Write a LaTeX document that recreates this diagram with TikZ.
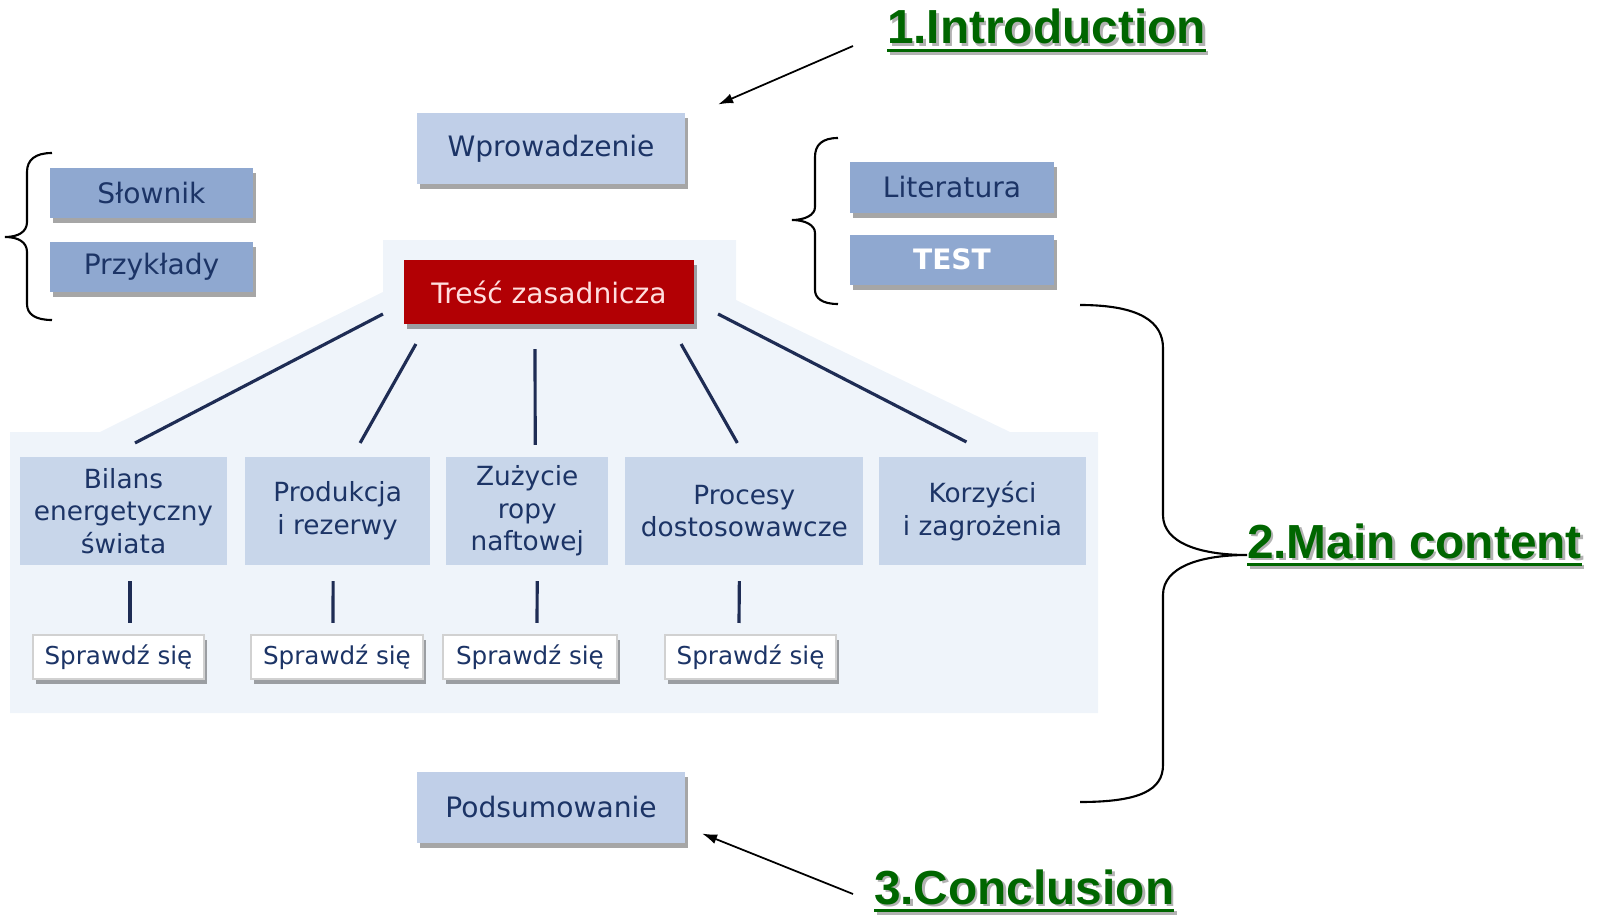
\documentclass[tikz,border=0pt]{standalone}
\usepackage{fontspec}
\setmainfont{DejaVu Sans}
\newfontfamily\headfont{Liberation Sans}
\usepackage{tikz}
\usetikzlibrary{positioning}
\usetikzlibrary{calc}
\usetikzlibrary{shadows}
\usetikzlibrary{arrows.meta}
\definecolor{navy}{RGB}{28,52,102}
\definecolor{linknavy}{RGB}{30,44,84}
\definecolor{sideblue}{RGB}{143,168,208}
\definecolor{paleblue}{RGB}{192,207,232}
\definecolor{topicblue}{RGB}{200,214,234}
\definecolor{panelblue}{RGB}{239,244,250}
\definecolor{darkred}{RGB}{178,0,4}
\definecolor{pinktext}{RGB}{255,222,222}
\definecolor{headgreen}{RGB}{0,102,0}
\newcommand{\headline}[1]{%
  \setbox0\hbox{\headfont\bfseries #1}%
  \rlap{\hspace{0.025cm}\raisebox{-0.025cm}[0pt][0pt]{\textcolor{black!30}{\headfont\bfseries\rlap{\raisebox{-0.08cm}{\rule{\wd0}{0.035cm}}}#1}}}%
  \textcolor{headgreen}{\headfont\bfseries\rlap{\raisebox{-0.08cm}{\rule{\wd0}{0.035cm}}}#1}}

\begin{document}
\begin{tikzpicture}[x=0.01cm, y=-0.01cm, every node/.style={outer sep=0pt},
  boxshadow/.style={drop shadow={shadow xshift=0.03cm, shadow yshift=-0.05cm, fill=black, opacity=0.35}},
  sidebox/.style={minimum width=2.03cm, minimum height=0.5cm, inner sep=0pt, fill=sideblue, text=navy, font=\fontsize{8pt}{10pt}\selectfont, boxshadow},
  partbox/.style={minimum width=2.68cm, minimum height=0.7cm, inner sep=0pt, fill=paleblue, text=navy, font=\fontsize{8pt}{10pt}\selectfont, boxshadow},
  topicbox/.style={minimum height=1.08cm, inner sep=0pt, fill=topicblue, text=navy, align=center, font=\fontsize{7.5pt}{9.3pt}\selectfont},
  checkbox/.style={minimum height=0.44cm, inner sep=0pt, fill=white, draw=black!18, line width=0.4pt, text=navy, font=\fontsize{7pt}{9pt}\selectfont, boxshadow},
  head/.style={anchor=base west, inner sep=0pt, font=\fontsize{13.6pt}{16pt}\selectfont},
  link/.style={draw=linknavy, line width=0.9pt},
  stem/.style={draw=linknavy, line width=0.9pt},
  curly/.style={draw=black, line width=0.6pt},
  pointer/.style={draw=black, line width=0.5pt, -{Latex[length=0.15cm, width=0.1cm]}}]
\useasboundingbox (0,0) rectangle (1602,915);

% pale panel behind the main part
\fill[panelblue] (383,240) -- (736,240) -- (736,300) -- (1010,432) -- (1098,432) -- (1098,713)
  -- (10,713) -- (10,432) -- (100,432) -- (383,292) -- cycle;

% side boxes
\node (slow) at (151.5,193) [sidebox] {Słownik};
\node (przy) [sidebox, below=0.24cm of slow] {Przykłady};
\node (lit) at (952,187.5) [sidebox] {Literatura};
\node (test) [sidebox, below=0.22cm of lit, text=white, font=\fontsize{8pt}{10pt}\selectfont\bfseries] {TEST};

% main chain
\node (wpr) at (551,148.5) [partbox] {Wprowadzenie};
\node (tres) at (549,292) [minimum width=2.9cm, minimum height=0.64cm, inner sep=0pt, fill=darkred, text=pinktext, font=\fontsize{8pt}{10pt}\selectfont, boxshadow] {Treść zasadnicza};
\node (pod) at (551,807.5) [partbox] {Podsumowanie};

% topics
\node (t1) at (123.5,511) [topicbox, minimum width=2.07cm] {Bilans\\energetyczny\\świata};
\node (t2) [topicbox, minimum width=1.85cm, right=0.18cm of t1] {Produkcja\\i rezerwy};
\node (t3) [topicbox, minimum width=1.62cm, right=0.16cm of t2] {Zużycie\\ropy\\naftowej};
\node (t4) [topicbox, minimum width=2.38cm, right=0.17cm of t3] {Procesy\\dostosowawcze};
\node (t5) [topicbox, minimum width=2.06cm, right=0.16cm of t4] {Korzyści\\i zagrożenia};

\node (s1) at (118.5,657) [checkbox, minimum width=1.71cm] {Sprawdź się};
\node (s2) at (337,657) [checkbox, minimum width=1.72cm] {Sprawdź się};
\node (s3) at (530,657) [checkbox, minimum width=1.74cm] {Sprawdź się};
\node (s4) at (750.5,657) [checkbox, minimum width=1.71cm] {Sprawdź się};

\draw[link] ($(tres.south west)+(-21,-10)$) -- ($(t1.north)+(11.5,-14)$);
\draw[link] ($(tres.south west)+(12,20)$) -- ($(t2.north)+(22.5,-14)$);
\draw[link] ($(tres.south)+(-14,25)$) -- ($(t3.north)+(8,-12)$);
\draw[link] ($(tres.south east)+(-13,20)$) -- ($(t4.north)+(-7,-14)$);
\draw[link] ($(tres.south east)+(24,-10)$) -- ($(t5.north)+(-16,-15)$);

\draw[stem] ($(t1.south)+(6.5,16)$) -- ($(s1.north)+(11.5,-12)$);
\draw[stem] ($(t2.south)+(-4.5,16)$) -- ($(s2.north)+(-4,-12)$);
\draw[stem] ($(t3.south)+(10,16)$) -- ($(s3.north)+(7,-12)$);
\draw[stem] ($(t4.south)+(-5,16)$) -- ($(s4.north)+(-11.5,-12)$);

% braces
\draw[curly] (52,153) .. controls (35,153) and (27,160) .. (27,172) -- (27,222)
  .. controls (27,232) and (18,237) .. (5,237) .. controls (18,237) and (27,242) .. (27,252)
  -- (27,304) .. controls (27,314) and (35,320) .. (52,320);
\draw[curly] (838,138) .. controls (822,138) and (815,145) .. (815,157) -- (815,207)
  .. controls (815,215) and (805,220) .. (792,220) .. controls (805,220) and (815,225) .. (815,233)
  -- (815,290) .. controls (815,298) and (822,304) .. (838,304);
\draw[curly] (1080,305) .. controls (1140,305) and (1163,322) .. (1163,348) -- (1163,515)
  .. controls (1163,543) and (1200,555) .. (1247,555) .. controls (1200,555) and (1163,567) .. (1163,595)
  -- (1163,765) .. controls (1163,790) and (1140,802) .. (1080,802);

% labels
\node (intro) at (887,44) [head] {\headline{1.Introduction}};
\node (main) at (1247,558) [head] {\headline{2.Main content}};
\node (concl) at (874,904) [head] {\headline{3.Conclusion}};

\draw[pointer] ($(intro.base west)+(-34,2)$) -- ($(wpr.north east)+(33,-9)$);
\draw[pointer] ($(concl.base west)+(-21,-10)$) -- ($(pod.south east)+(17,-9)$);
\end{tikzpicture}
\end{document}
